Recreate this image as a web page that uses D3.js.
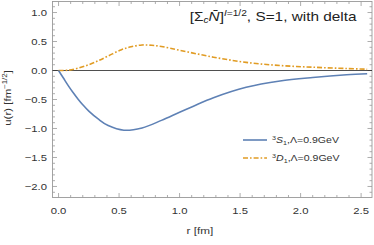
<!DOCTYPE html>
<html>
<head>
<meta charset="utf-8">
<script src="https://cdn.jsdelivr.net/npm/d3@7"></script>
<style>
  body { margin: 0; background: #fff; }
  text { font-family: "Liberation Sans", Arial, sans-serif; }
</style>
</head>
<body>
<div id="chart"></div>
<script>
// S-wave component
const rS = [0, 0.04, 0.08, 0.12, 0.16, 0.2, 0.25, 0.33, 0.41, 0.54, 0.69, 0.85, 1.0, 1.11, 1.28, 1.55, 1.83, 2.1, 2.38, 2.55];
const uS = [0, -0.13, -0.26, -0.38, -0.49, -0.59, -0.70, -0.84, -0.95, -1.03, -0.99, -0.86, -0.72, -0.62, -0.47, -0.29, -0.18, -0.12, -0.074, -0.057];
// D-wave component
const rD = [0, 0.08, 0.16, 0.25, 0.33, 0.41, 0.52, 0.6, 0.69, 0.77, 0.85, 1.0, 1.28, 1.55, 1.83, 2.1, 2.38, 2.55];
const uD = [0, 0.005, 0.04, 0.10, 0.17, 0.25, 0.36, 0.41, 0.44, 0.435, 0.415, 0.35, 0.23, 0.14, 0.086, 0.057, 0.034, 0.022];

const xTicks = [0, 0.5, 1.0, 1.5, 2.0, 2.5];
const yTicks = [1.0, 0.5, 0.0, -0.5, -1.0, -1.5, -2.0];

const width = 374, height = 245;
const SX = 1.2; // the text in the original is a bit wider than Liberation Sans
const svg = d3.select("#chart").append("svg").attr("width", width).attr("height", height);

const x = d3.scaleLinear().domain([-0.05, 2.59]).range([52.5, 372]);
const y = d3.scaleLinear().domain([-2.19, 1.19]).range([197.5, 1.5]);

const frameCol = "#999";
const x0 = x.range()[0], x1 = x.range()[1], y0 = y.range()[0], y1 = y.range()[1];

function txt(px, py, size, anchor, extra) {
  return svg.append("text")
    .attr("transform", `translate(${px},${py})${extra || ""} scale(${SX},1)`)
    .attr("text-anchor", anchor).attr("font-size", size).attr("fill", "#333");
}

// minor / major ticks on all four sides
const minorX = d3.range(0, 2.6, 0.1).map(v => +v.toFixed(2));
const minorY = d3.range(-2.1, 1.2, 0.1).map(v => +v.toFixed(2));
const isMajor = v => Math.abs(v * 2 - Math.round(v * 2)) < 1e-6;

const tk = svg.append("g").attr("stroke", frameCol).attr("stroke-width", 0.8);
minorX.forEach(v => {
  const len = isMajor(v) ? 4.5 : 2.5;
  tk.append("line").attr("x1", x(v)).attr("x2", x(v)).attr("y1", y0).attr("y2", y0 - len);
  tk.append("line").attr("x1", x(v)).attr("x2", x(v)).attr("y1", y1).attr("y2", y1 + len);
});
minorY.forEach(v => {
  const len = isMajor(v) ? 4.5 : 2.5;
  tk.append("line").attr("y1", y(v)).attr("y2", y(v)).attr("x1", x0).attr("x2", x0 + len);
  tk.append("line").attr("y1", y(v)).attr("y2", y(v)).attr("x1", x1).attr("x2", x1 - len);
});

svg.append("rect").attr("x", x0).attr("y", y1).attr("width", x1 - x0).attr("height", y0 - y1)
  .attr("fill", "none").attr("stroke", frameCol).attr("stroke-width", 0.9);

// tick labels
xTicks.forEach(d => txt(x(d), 214, 9.4, "middle").text(d.toFixed(1)));
yTicks.forEach(d => txt(47, y(d) + 3.4, 9.4, "end")
  .text(d < 0 ? "\u2212" + Math.abs(d).toFixed(1) : d.toFixed(1)));

// axis labels
txt(200, 234, 9.8, "middle").text("r [fm]");

const yl = txt(10.5, 98, 9.6, "middle", " rotate(-90)");
yl.append("tspan").text("u(r) [fm");
yl.append("tspan").attr("font-size", 6.5).attr("dy", -4).text("\u22121/2");
yl.append("tspan").attr("dy", 4).text("]");

// zero line
svg.append("line").attr("x1", x0).attr("x2", x1).attr("y1", y(0)).attr("y2", y(0))
  .attr("stroke", "#222").attr("stroke-width", 0.8);

const line = d3.line().x(d => x(d[0])).y(d => y(d[1])).curve(d3.curveCatmullRom.alpha(0.5));

svg.append("path").datum(rD.map((r, i) => [r, uD[i]]))
  .attr("d", line).attr("fill", "none").attr("stroke", "#E19C24")
  .attr("stroke-width", 1.6).attr("stroke-dasharray", "5,2,1.6,2");

svg.append("path").datum(rS.map((r, i) => [r, uS[i]]))
  .attr("d", line).attr("fill", "none").attr("stroke", "#5E81B5")
  .attr("stroke-width", 1.6);

// title
const t = txt(356.5, 20.5, 12.8, "end").attr("fill", "#222");
t.append("tspan").text("[\u03A3");
t.append("tspan").attr("font-size", 8.5).attr("font-style", "italic").attr("dy", 2.5).text("c");
t.append("tspan").attr("font-style", "italic").attr("dy", -2.5).text("N\u0304");
t.append("tspan").text("]");
t.append("tspan").attr("font-size", 8.5).attr("dy", -5).attr("font-style", "italic").text("I");
t.append("tspan").attr("font-size", 8.5).text("=1/2");
t.append("tspan").attr("dy", 5).text(", S=1, with delta");

// legend
const legend = [
  { lbl: "S", col: "#5E81B5", dash: null, yy: 140 },
  { lbl: "D", col: "#E19C24", dash: "5,2,1.6,2", yy: 158 }
];
legend.forEach(l => {
  svg.append("line").attr("x1", 243).attr("x2", 267).attr("y1", l.yy).attr("y2", l.yy)
    .attr("stroke", l.col).attr("stroke-width", 1.6).attr("stroke-dasharray", l.dash);
  const lt = txt(272, l.yy + 3.3, 8.8, "start");
  lt.append("tspan").attr("font-size", 6).attr("dy", -3.5).text("3");
  lt.append("tspan").attr("dy", 3.5).attr("font-style", "italic").text(l.lbl);
  lt.append("tspan").attr("font-size", 6).attr("dy", 2).text("1");
  lt.append("tspan").attr("dy", -2).text(",\u039B=0.9GeV");
});
</script>
</body>
</html>
